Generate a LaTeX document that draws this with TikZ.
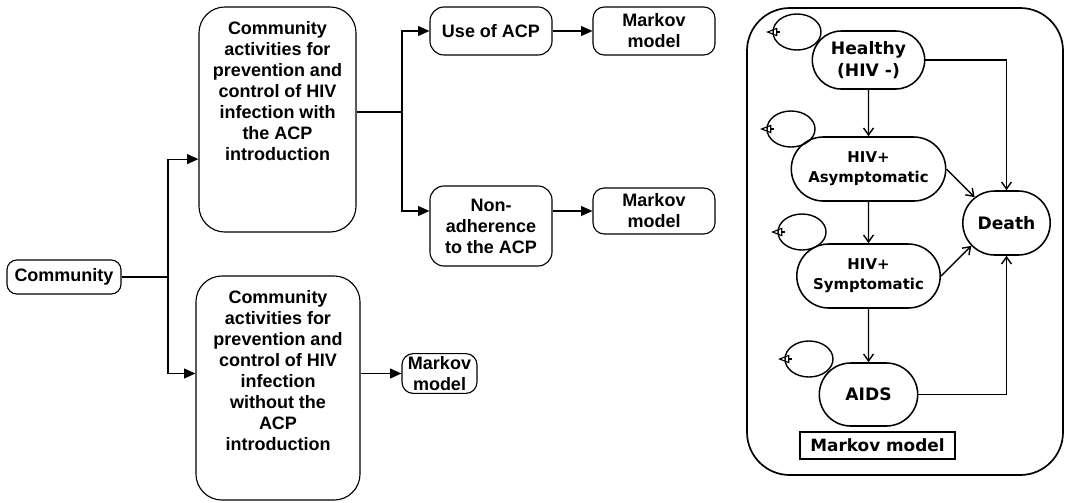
\documentclass[tikz,border=0pt]{standalone}
\usepackage{fontspec}
\setmainfont{Liberation Sans}
\newfontfamily\statefont{DejaVu Sans}
\usetikzlibrary{arrows.meta,shapes.misc}

\begin{document}
\begin{tikzpicture}[x=0.025cm,y=-0.025cm,
  box/.style={draw,line width=0.8pt,rounded corners=8pt,align=center,inner sep=2pt,
              font=\bfseries\fontsize{12.8}{14.9}\selectfont},
  bigbox/.style={box,rounded corners=0.65cm},
  boxtext/.style={anchor=north,align=center,inner sep=0pt,
                  font=\bfseries\fontsize{12.8}{14.9}\selectfont},
  link/.style={line width=0.8pt},
  flow/.style={link,-{Triangle[length=8pt,width=7pt]}},
  state/.style={draw,line width=1.1pt,rounded rectangle,inner sep=2pt,align=center,
                font=\statefont\bfseries\fontsize{12.2}{15.4}\selectfont},
  hivstate/.style={state,font=\statefont\bfseries\fontsize{10.6}{14.2}\selectfont},
  trans/.style={line width=1pt,-{Straight Barb[length=5pt,width=7pt]}},
  selfloop/.style={line width=1pt},
  looptip/.style={line width=0.8pt,-{Triangle[open,length=8pt,width=6pt]}}]

  \useasboundingbox (0,0) rectangle (1065,502);

  % Left tree: community and its two programmes
  \node[box,rounded corners=7pt,minimum width=2.85cm,minimum height=0.85cm]
    (community) at (64,277) {Community};

  \node[bigbox,minimum width=3.925cm,minimum height=5.625cm] (withacp) at (277.5,119.5) {};
  \node[boxtext] (withtext) at ([yshift=-0.37cm]withacp.north)
    {Community\\activities for\\prevention and\\control of HIV\\infection with\\the ACP\\introduction};

  \node[bigbox,minimum width=4.1cm,minimum height=5.6cm] (withoutacp) at (278,388) {};
  \node[boxtext] (withouttext) at ([yshift=-0.37cm]withoutacp.north)
    {Community\\activities for\\prevention and\\control of HIV\\infection\\without the\\ACP\\introduction};

  % Second level: adherence
  \node[box,rounded corners=10pt,minimum width=3.05cm,minimum height=1.2cm]
    (useacp) at (491,31) {Use of ACP};
  \node[box,rounded corners=10pt,minimum width=3.05cm,minimum height=2.0cm]
    (nonadh) at (491,226) {Non-\\adherence\\to the ACP};

  % Markov model boxes
  \node[box,minimum width=3.05cm,minimum height=1.2cm] (markovone) at (654,31) {Markov\\model};
  \node[box,minimum width=3.05cm,minimum height=1.15cm] (markovtwo) at (654,211) {Markov\\model};
  \node[box,minimum width=1.875cm,minimum height=0.975cm] (markovthree) at (439.5,373.5) {Markov\\model};

  \coordinate (split) at (168,277);
  \coordinate (branch) at (402,112);
  \draw[link] (community.east) -- (split);
  \draw[flow] (split) |- ([yshift=-0.99cm]withacp.west);
  \draw[flow] (split) |- (withoutacp.west |- markovthree.west);
  \draw[link] (withacp.east |- branch) -- (branch);
  \draw[flow] (branch) |- (useacp.west);
  \draw[flow] (branch) |- (nonadh.west |- markovtwo.west);
  \draw[flow] (useacp) -- (markovone);
  \draw[flow] (nonadh.east |- markovtwo.west) -- (markovtwo.west);
  \draw[flow] (withoutacp.east |- markovthree.west) -- (markovthree.west);

  % Right panel: the Markov model
  \draw[line width=1.2pt,rounded corners=1.07cm] (747,8) rectangle (1063,475);

  \node[state,minimum width=2.95cm,minimum height=1.45cm] (healthy) at (868.5,60) {Healthy\\(HIV -)};
  \node[hivstate,minimum width=4.0cm,minimum height=1.6cm] (asym) at (868.5,169) {HIV+\\Asymptomatic};
  \node[hivstate,minimum width=3.725cm,minimum height=1.6cm] (symp) at (868.5,276) {HIV+\\Symptomatic};
  \node[state,minimum width=2.6cm,minimum height=1.575cm] (aids) at (868.5,394.5) {AIDS};
  \node[state,minimum width=2.325cm,minimum height=1.6cm] (death) at (1006.5,223) {Death};
  \node[draw,line width=0.9pt,minimum width=3.875cm,minimum height=0.675cm,
        font=\statefont\bfseries\fontsize{12}{14}\selectfont] (mlabel) at (877.5,445.5) {Markov model};

  \draw[trans] (healthy) -- (asym);
  \draw[trans] (asym) -- (symp);
  \draw[trans] (symp) -- (aids);
  \draw[trans] (healthy.east) -| (death.north);
  \draw[trans] (asym.east) -- (death.141);
  \draw[trans] (symp.east) -- (death.213);
  \draw[trans] (aids.east) -| (death.south);

  % self loops
  \coordinate (healthyloop) at (797,32);
  \coordinate (asymloop) at (791,129);
  \coordinate (symploop) at (802,232);
  \coordinate (aidsloop) at (809,359);
  \foreach \c in {healthyloop,asymloop,symploop,aidsloop} {
    \draw[selfloop] (\c) ellipse [x radius=0.6cm, y radius=0.45cm];
    \draw[looptip] (\c) ++(-17,0) -- ++(-14,0);
  }
\end{tikzpicture}
\end{document}
